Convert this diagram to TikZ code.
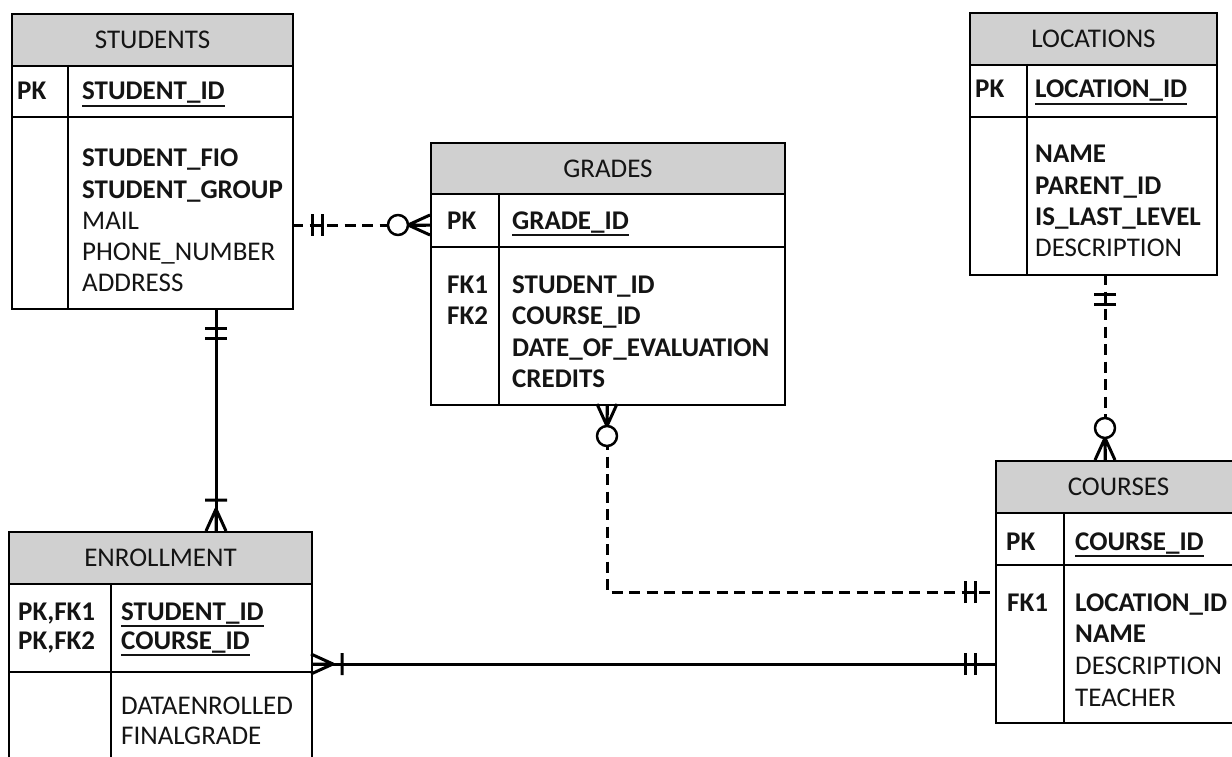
\documentclass[tikz,border=0pt]{standalone}
\usepackage{fontspec}
\setmainfont{Carlito}
\definecolor{hdrgray}{RGB}{208,208,208}
\definecolor{txtcol}{RGB}{20,20,20}
\newcommand{\ulin}[1]{\setbox0\hbox{#1}\rlap{\rule[-7pt]{\wd0}{2pt}}\box0}
\tikzset{
  onlyone/.pic={\draw[mk] (20,-11) -- (20,11) (30,-11) -- (30,11) (20,0) -- (30,0);},
  zeromany/.pic={\draw[mk] (0,-10) -- (22,0) -- (0,10) (0,0) -- (22,0);
                 \draw[mk, fill=white, line width=2.5pt] (32,0) circle[radius=10pt];},
  onemany/.pic={\draw[mk] (0,-10) -- (22,0) -- (0,10) (0,0) -- (22,0) (31,-11) -- (31,11);},
}
\begin{document}
\begin{tikzpicture}[x=1pt,y=-1pt,
  tbox/.style={draw, line width=2pt, inner sep=0pt, anchor=north west},
  thead/.style={tbox, fill=hdrgray, text=txtcol, font=\fontsize{27}{32}\selectfont},
  lbl/.style={anchor=base west, inner sep=0pt, text=txtcol, font=\fontsize{27}{32}\selectfont},
  blbl/.style={anchor=base west, inner sep=0pt, text=txtcol, font=\fontsize{27}{32}\selectfont\bfseries},
  rule/.style={line width=2pt},
  conn/.style={line width=3pt},
  dconn/.style={line width=3pt, dash pattern=on 11pt off 6.5pt},
  mk/.style={line width=3pt, line join=round}]
\clip (0,0) rectangle (1232,757);
\fill[white] (0,0) rectangle (1232,757);

% ---------- STUDENTS ----------
\node[tbox, minimum width=281pt, minimum height=295pt] (students) at (11,13) {};
\node[thead, minimum width=281pt, minimum height=52pt] (studentsH) at (11,13) {STUDENTS};
\draw[rule] (11,117) -- (292,117) (68,65) -- (68,308);
\node[blbl] (sPK) at (17,100) {PK};
\node[blbl] (sID) at (82,100) {\ulin{STUDENT\_ID}};
\node[blbl] (sF1) at (82,167) {STUDENT\_FIO};
\node[blbl] (sF2) at (82,198) {STUDENT\_GROUP};
\node[lbl]  (sF3) at (82,229) {MAIL};
\node[lbl]  (sF4) at (82,260) {PHONE\_NUMBER};
\node[lbl]  (sF5) at (82,291) {ADDRESS};

% ---------- GRADES ----------
\node[tbox, minimum width=354pt, minimum height=262pt] (grades) at (430,142) {};
\node[thead, minimum width=354pt, minimum height=51pt] (gradesH) at (430,142) {GRADES};
\draw[rule] (430,247) -- (784,247) (499,193) -- (499,404);
\node[blbl] (gPK) at (447,229) {PK};
\node[blbl] (gID) at (512,229) {\ulin{GRADE\_ID}};
\node[blbl] (gK1) at (447,293) {FK1};
\node[blbl] (gK2) at (447,324) {FK2};
\node[blbl] (gF1) at (512,293) {STUDENT\_ID};
\node[blbl] (gF2) at (512,324) {COURSE\_ID};
\node[blbl] (gF3) at (512,356) {DATE\_OF\_EVALUATION};
\node[blbl] (gF4) at (512,387) {CREDITS};

% ---------- LOCATIONS ----------
\node[tbox, minimum width=247pt, minimum height=262pt] (locations) at (969,12) {};
\node[thead, minimum width=247pt, minimum height=52pt] (locationsH) at (969,12) {LOCATIONS};
\draw[rule] (969,117) -- (1216,117) (1027,64) -- (1027,274);
\node[blbl] (lPK) at (975,98) {PK};
\node[blbl] (lID) at (1035,98) {\ulin{LOCATION\_ID}};
\node[blbl] (lF1) at (1035,163) {NAME};
\node[blbl] (lF2) at (1035,194) {PARENT\_ID};
\node[blbl] (lF3) at (1035,225) {IS\_LAST\_LEVEL};
\node[lbl]  (lF4) at (1035,256) {DESCRIPTION};

% ---------- COURSES ----------
\node[tbox, minimum width=245pt, minimum height=262pt] (courses) at (995,460) {};
\node[thead, minimum width=245pt, minimum height=52pt] (coursesH) at (995,460) {COURSES};
\draw[rule] (995,565) -- (1240,565) (1064,512) -- (1064,722);
\node[blbl] (cPK) at (1006,550) {PK};
\node[blbl] (cID) at (1075,550) {\ulin{COURSE\_ID}};
\node[blbl] (cK1) at (1007,611) {FK1};
\node[blbl] (cF1) at (1075,611) {LOCATION\_ID};
\node[blbl] (cF2) at (1075,642) {NAME};
\node[lbl]  (cF3) at (1075,674) {DESCRIPTION};
\node[lbl]  (cF4) at (1075,706) {TEACHER};

% ---------- ENROLLMENT ----------
\node[tbox, minimum width=303pt, minimum height=260pt] (enroll) at (8,531) {};
\node[thead, minimum width=303pt, minimum height=52pt] (enrollH) at (8,531) {ENROLLMENT};
\draw[rule] (8,672) -- (311,672) (111,583) -- (111,791);
\node[blbl] (eK1) at (18,620) {PK,FK1};
\node[blbl] (eK2) at (18,649) {PK,FK2};
\node[blbl] (eF1) at (121,620) {\ulin{STUDENT\_ID}};
\node[blbl] (eF2) at (121,649) {\ulin{COURSE\_ID}};
\node[lbl]  (eF3) at (121,714) {DATAENROLLED};
\node[lbl]  (eF4) at (121,744) {FINALGRADE};

% ---------- attachment points ----------
\coordinate (sE) at (292,225);
\coordinate (gW) at (430,225);
\coordinate (sS) at (216,308);
\coordinate (eN) at (216,531);
\coordinate (eE) at (311,664);
\coordinate (cW1) at (995,664);
\coordinate (gS) at (607,404);
\coordinate (cW2) at (995,592);
\coordinate (lS) at (1105,274);
\coordinate (cN) at (1105,460);

% ---------- connectors ----------
\draw[dconn] (sE) -- (gW);
\draw[conn] (sS) -- (eN);
\draw[conn] (eE) -- (cW1);
\draw[dconn] (gS) |- (cW2);
\draw[dconn] (lS) -- (cN);

% ---------- cardinality marks ----------
\pic at (sE) {onlyone};
\pic[rotate=180] at (gW) {zeromany};
\pic[rotate=-90] at (sS) {onlyone};
\pic[rotate=90] at (eN) {onemany};
\pic at (eE) {onemany};
\pic[rotate=180] at (cW1) {onlyone};
\pic[rotate=-90] at (gS) {zeromany};
\pic[rotate=180] at (cW2) {onlyone};
\pic[rotate=-90] at (lS) {onlyone};
\pic[rotate=90] at (cN) {zeromany};
\end{tikzpicture}
\end{document}
